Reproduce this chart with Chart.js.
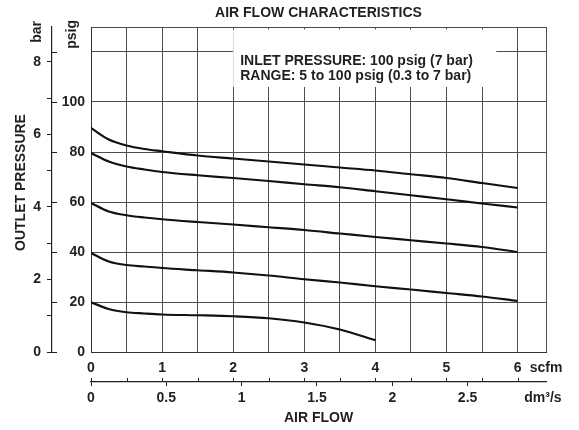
<!DOCTYPE html>
<html>
<head>
<meta charset="utf-8">
<script src="https://cdn.jsdelivr.net/npm/chart.js@4/dist/chart.umd.min.js"></script>
<style>
html, body { margin: 0; padding: 0; background: #fff; }
#wrap { width: 579px; height: 430px; position: relative; }
</style>
</head>
<body>
<div id="wrap"><canvas id="c"></canvas></div>
<script>
const flowScfm = [0, 0.25, 0.5, 0.75, 1, 1.5, 2, 2.5, 3, 3.5, 4, 4.5, 5, 5.5, 6];
// outlet pressure (psig) for each set point
const curve90 = [89.6, 85.0, 82.6, 81.2, 80.3, 78.6, 77.4, 76.2, 75.0, 73.8, 72.6, 71.1, 69.6, 67.6, 65.6];
const curve80 = [79.6, 76.2, 74.2, 73.0, 72.0, 70.7, 69.6, 68.4, 67.1, 65.9, 64.3, 62.7, 61.1, 59.4, 57.8];
const curve60 = [59.6, 56.2, 54.7, 53.8, 53.1, 52.0, 51.0, 49.9, 48.8, 47.4, 46.0, 44.7, 43.4, 42.0, 40.0];
const curve40 = [39.6, 36.2, 34.8, 34.2, 33.6, 32.7, 31.8, 30.6, 29.1, 27.8, 26.3, 25.0, 23.6, 22.2, 20.4];
const curve20 = [19.9, 17.2, 15.9, 15.4, 15.0, 14.7, 14.3, 13.5, 11.8, 9.0, 4.7];
const noteLines = ['INLET PRESSURE: 100 psig (7 bar)', 'RANGE: 5 to 100 psig (0.3 to 7 bar)'];

const SCFM_MAX = 6.4;
const PSIG_MAX = 130;
const PSIG_LABEL_MAX = 100;
const PSI_PER_BAR = 14.5038;
const DM3S_PER_SCFM = 0.4719474;

const INK = '#231f20';
const GRID = '#4d4d4d';
const FONT_FAMILY = "'Liberation Sans', Arial, Helvetica, sans-serif";

Chart.defaults.font.family = FONT_FAMILY;
Chart.defaults.font.size = 14;
Chart.defaults.font.weight = 'bold';
Chart.defaults.color = INK;

let pts = (ys) => ys.map((v, i) => ({x: flowScfm[i], y: v}));
let curve = (ys) => ({
	data: pts(ys),
	borderColor: '#111',
	borderWidth: 2.2,
	pointRadius: 0,
	fill: false,
	showLine: true,
	cubicInterpolationMode: 'monotone',
});

function vtext(ctx, s, cx, cy, align) {
	ctx.save();
	ctx.translate(cx, cy);
	ctx.rotate(-Math.PI / 2);
	ctx.textAlign = align;
	ctx.textBaseline = 'middle';
	ctx.fillText(s, 0, 0);
	ctx.restore();
}

const extras = {
	id: 'extras',
	beforeDatasetsDraw(chart) {
		let {ctx, scales: {x, y}} = chart;
		let l = x.getPixelForValue(2.0);
		let r = x.getPixelForValue(5.7);
		let t = y.getPixelForValue(129);
		let b = y.getPixelForValue(106);
		ctx.save();
		ctx.fillStyle = '#fff';
		ctx.fillRect(l, t, r - l, b - t);
		ctx.fillStyle = INK;
		ctx.font = 'bold 14px ' + FONT_FAMILY;
		ctx.textAlign = 'left';
		ctx.textBaseline = 'middle';
		noteLines.forEach((s, i) => ctx.fillText(s, l + 7, t + 31.5 + i * 15.5));
		ctx.restore();
	},
	afterDraw(chart) {
		let {ctx, scales: {x, y, yBar, x2}} = chart;
		ctx.save();
		ctx.strokeStyle = INK;
		ctx.lineWidth = 1;
		// psig marks on the bar axis line
		y.ticks.forEach((t) => {
			if (t.value > 120) return;
			let py = Math.round(y.getPixelForValue(t.value)) + 0.5;
			ctx.beginPath();
			ctx.moveTo(yBar.right, py);
			ctx.lineTo(yBar.right + 5, py);
			ctx.stroke();
		});
		// scfm marks on the dm3/s axis line
		x.ticks.forEach((t) => {
			if (t.value > 6) return;
			let px = Math.round(x.getPixelForValue(t.value)) + 0.5;
			ctx.beginPath();
			ctx.moveTo(px, x2.top - 4);
			ctx.lineTo(px, x2.top);
			ctx.stroke();
		});
		ctx.fillStyle = INK;
		ctx.font = 'bold 14px ' + FONT_FAMILY;
		vtext(ctx, 'bar', 37, 21, 'right');
		vtext(ctx, 'psig', 72, 20, 'right');
		vtext(ctx, 'OUTLET PRESSURE', 21, 182.5, 'center');
		ctx.restore();
	},
};

new Chart(document.getElementById('c'), {
	type: 'scatter',
	data: {
		datasets: [curve(curve90), curve(curve80), curve(curve60), curve(curve40), curve(curve20)],
	},
	options: {
		responsive: true,
		maintainAspectRatio: false,
		animation: false,
		layout: {padding: {left: 8, right: 33, top: 0, bottom: 2}},
		plugins: {
			legend: {display: false},
			tooltip: {enabled: false},
			title: {
				display: true,
				text: 'AIR FLOW CHARACTERISTICS',
				fullSize: false,
				color: INK,
				font: {size: 14, weight: 'bold'},
				padding: {top: 4.6, bottom: 5.6},
			},
		},
		scales: {
			x: {
				type: 'linear',
				position: 'bottom',
				weight: 0,
				min: 0,
				max: SCFM_MAX,
				afterBuildTicks: (s) => { s.ticks.push({value: SCFM_MAX}); },
				afterFit: (s) => { s.height = 30; },
				ticks: {
					stepSize: 0.5,
					includeBounds: false,
					autoSkip: false,
					maxRotation: 0,
					padding: 7.6,
					callback: (v) => (v === SCFM_MAX ? 'scfm' : (Number.isInteger(v) ? String(v) : '')),
				},
				grid: {color: GRID, lineWidth: 1, drawTicks: false},
				border: {color: '#333', width: 1},
			},
			x2: {
				type: 'linear',
				position: 'bottom',
				weight: 1,
				min: 0,
				max: SCFM_MAX * DM3S_PER_SCFM,
				afterFit: (s) => { s.height = 46; },
				ticks: {
					stepSize: 0.5,
					includeBounds: false,
					autoSkip: false,
					maxRotation: 0,
					padding: 3.3,
					callback: (v) => (v >= 3 ? 'dm³/s' : String(v)),
				},
				grid: {
					drawOnChartArea: false,
					drawTicks: true,
					tickLength: 4,
					color: (c) => (c.tick && c.tick.value >= 3 ? 'rgba(0,0,0,0)' : INK),
				},
				border: {color: INK, width: 1.2},
				title: {
					display: true,
					text: 'AIR FLOW',
					color: INK,
					font: {size: 14, weight: 'bold'},
					padding: {top: 0, bottom: 1.6},
				},
			},
			y: {
				type: 'linear',
				position: 'left',
				weight: 0,
				min: 0,
				max: PSIG_MAX,
				afterBuildTicks: (s) => { s.ticks.push({value: PSIG_MAX}); },
				afterFit: (s) => { s.width = 39; },
				ticks: {
					stepSize: 20,
					includeBounds: false,
					padding: 6,
					callback: (v) => (v > PSIG_LABEL_MAX ? '' : String(v)),
				},
				grid: {color: GRID, lineWidth: 1, drawTicks: false},
				border: {color: '#333', width: 1},
			},
			yBar: {
				type: 'linear',
				position: 'left',
				weight: 1,
				min: 0,
				max: PSIG_MAX / PSI_PER_BAR,
				afterFit: (s) => { s.width = 44; },
				ticks: {
					stepSize: 1,
					includeBounds: false,
					padding: 6,
					autoSkip: false,
					callback: (v) => (v % 2 === 0 ? String(v) : ''),
				},
				grid: {drawOnChartArea: false, drawTicks: true, tickLength: 5, color: INK},
				border: {color: INK, width: 1.2},
			},
		},
	},
	plugins: [extras],
});
</script>
</body>
</html>
